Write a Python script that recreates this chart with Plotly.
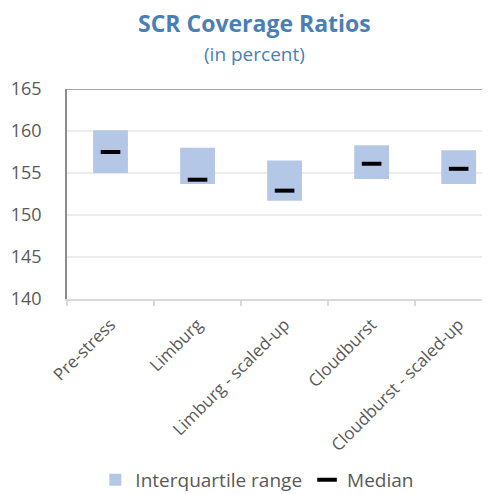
import plotly.graph_objects as go

categories = ["Pre-stress", "Limburg", "Limburg - scaled-up", "Cloudburst", "Cloudburst - scaled-up"]
q1 = [155.0, 153.7, 151.7, 154.3, 153.7]
q3 = [160.1, 158.0, 156.5, 158.3, 157.7]
median = [157.5, 154.2, 152.9, 156.1, 155.5]
y_ticks = [140, 145, 150, 155, 160, 165]

FONT = "Open Sans"
GREY = "#595959"

fig = go.Figure()
fig.add_trace(go.Bar(
    x=categories, y=[b - a for a, b in zip(q1, q3)], base=q1,
    width=0.4, marker=dict(color="#b4c7e7", line=dict(width=0)),
    name="Interquartile range",
))
fig.add_trace(go.Scatter(
    x=categories, y=median, mode="markers", name="Median",
    marker=dict(symbol="line-ew", size=14, line=dict(width=4, color="black"), color="black"),
))

fig.update_layout(
    width=482, height=486,
    margin=dict(l=59, r=0, t=81, b=195, autoexpand=False),
    paper_bgcolor="white", plot_bgcolor="white",
    font=dict(family=FONT, color=GREY),
    showlegend=True,
    legend=dict(orientation="h", x=0.45, xanchor="center", y=(299 - 480) / 210, yanchor="middle",
                font=dict(size=19, color=GREY), itemwidth=30, tracegroupgap=0),
    xaxis=dict(
        type="category", range=[-0.5, 4.36], automargin=False,
        showline=True, linecolor="#d9d9d9", linewidth=2,
        ticks="outside", tickson="boundaries", tickcolor="#d9d9d9", ticklen=5, tickwidth=2,
        tickangle=-45, tickfont=dict(size=17, color=GREY), showgrid=False,
        ticklabelstandoff=7,
    ),
    yaxis=dict(
        range=[140, 165], tickvals=y_ticks, automargin=False,
        showline=True, linecolor="#8c8c8c", linewidth=1.5,
        showgrid=True, gridcolor="#ececec", gridwidth=1.5,
        tickfont=dict(size=18, color=GREY), ticks="", ticklabelstandoff=20,
        zeroline=False,
    ),
    shapes=[dict(type="line", xref="paper", yref="y", x0=0, x1=1, y0=165, y1=165,
                 line=dict(color="#a6a6a6", width=2))],
    annotations=[
        dict(text="<b>SCR Coverage Ratios</b>", xref="paper", yref="paper",
             x=0.444, y=(299 - 23) / 210, xanchor="center", yanchor="middle", showarrow=False,
             font=dict(size=23, color="#4a7fb5", family=FONT)),
        dict(text="(in percent)", xref="paper", yref="paper",
             x=0.443, y=(299 - 54) / 210, xanchor="center", yanchor="middle", showarrow=False,
             font=dict(size=19, color="#4a7fb5", family=FONT)),
    ],
)

fig.write_html("out.html")
